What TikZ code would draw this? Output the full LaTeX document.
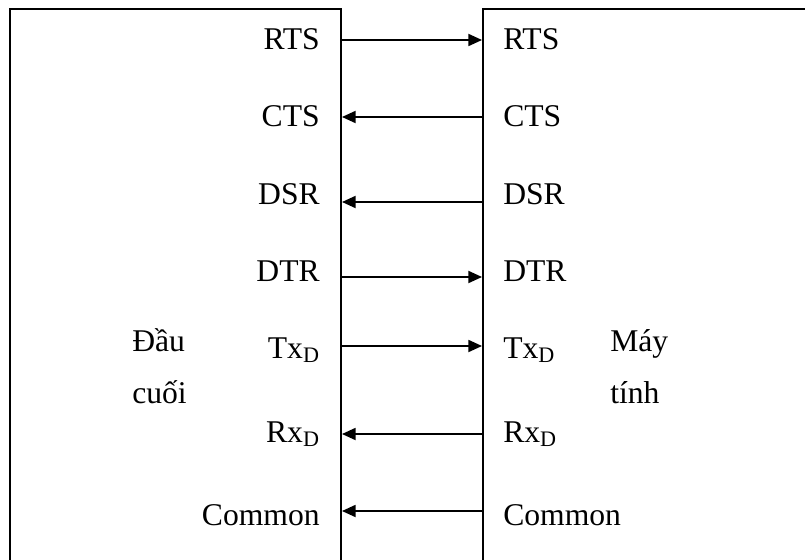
\documentclass[tikz,border=0pt]{standalone}
\usepackage{fontspec}
\setmainfont{Liberation Serif}
\usetikzlibrary{arrows.meta, fit}
\tikzstyle{unit} = [draw, line width=0.5mm, inner sep=0pt]
\tikzstyle{pin}  = [font=\fontsize{22.5}{36.3}\selectfont, inner sep=0pt]
\tikzstyle{fwd}  = [-{Triangle[length=3.4mm, width=3mm]}, line width=0.45mm]
\tikzstyle{back} = [{Triangle[length=3.4mm, width=3mm]}-, line width=0.45mm]

\begin{document}
\begin{tikzpicture}[x=0.25mm, y=-0.25mm]
  \useasboundingbox (0,0) rectangle (805,560);
  \clip (0,0) rectangle (805,560);

  % the two devices, open at the bottom
  \node[unit, fit={(10,9) (341,620)}]  (term) {};
  \node[unit, fit={(483,9) (860,620)}] (pc) {};

  \node[pin, align=left, anchor=base west] (termname) at (132,403) {Đầu\\cuối};
  \node[pin, align=left, anchor=base west] (pcname)   at (610,403) {Máy\\tính};

  % signal lines
  \foreach \n/\txt/\yl/\ya/\dir in {rts/RTS/50/40/fwd, cts/CTS/127/117/back,
      dsr/DSR/204/202/back, dtr/DTR/281/277/fwd,
      tx/{Tx\textsubscript{D}}/358/346/fwd, rx/{Rx\textsubscript{D}}/442/434/back,
      com/Common/525/511/back} {
    \node[pin, anchor=base east] (t\n) at (320,\yl) {\txt};
    \node[pin, anchor=base west] (p\n) at (503,\yl) {\txt};
    \coordinate (a\n) at (0,\ya);
    \draw[\dir] (term.east |- a\n) -- (pc.west |- a\n);
  }
\end{tikzpicture}
\end{document}
